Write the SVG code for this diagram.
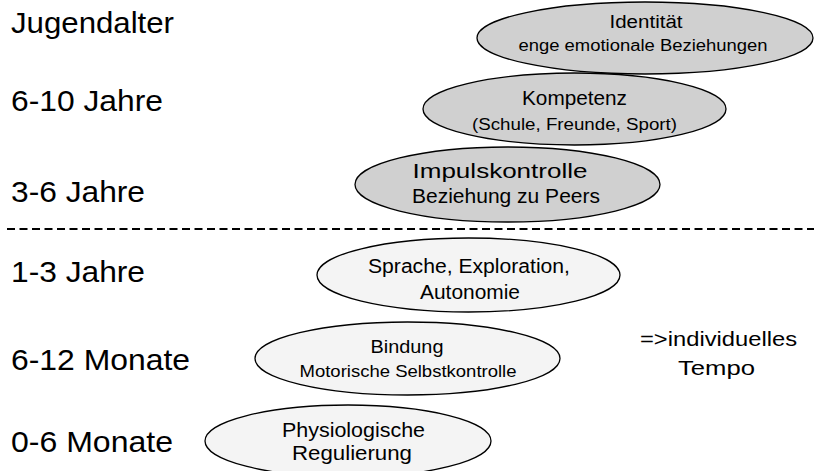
<svg xmlns="http://www.w3.org/2000/svg" width="814" height="471" viewBox="0 0 814 471">
<style>
text{font-family:"Liberation Sans",Arial,sans-serif;fill:#000}
.lab{font-size:30px}
.dark{fill:#d0d0d0;stroke:#000;stroke-width:1.3}
.light{fill:#f4f4f4;stroke:#000;stroke-width:1.3}
.c{text-anchor:middle}
</style>
<rect width="814" height="471" fill="#fff"/>
<g id="labels">
<text class="lab" x="11" y="33" textLength="163" lengthAdjust="spacingAndGlyphs">Jugendalter</text>
<text class="lab" x="11" y="111" textLength="152" lengthAdjust="spacingAndGlyphs">6-10 Jahre</text>
<text class="lab" x="11" y="202" textLength="134" lengthAdjust="spacingAndGlyphs">3-6 Jahre</text>
<text class="lab" x="11" y="282" textLength="134" lengthAdjust="spacingAndGlyphs">1-3 Jahre</text>
<text class="lab" x="11" y="370" textLength="179" lengthAdjust="spacingAndGlyphs">6-12 Monate</text>
<text class="lab" x="11" y="452" textLength="162" lengthAdjust="spacingAndGlyphs">0-6 Monate</text>
</g>
<g id="connectors">
<line x1="7" y1="229" x2="814" y2="229" stroke="#000" stroke-width="2" stroke-dasharray="8 4.5"/>
</g>
<g id="n1">
<ellipse class="dark" cx="645" cy="38" rx="168" ry="36"/>
<text class="c" x="646" y="28" font-size="18" textLength="73" lengthAdjust="spacingAndGlyphs">Identität</text>
<text class="c" x="643" y="51" font-size="16" textLength="249" lengthAdjust="spacingAndGlyphs">enge emotionale Beziehungen</text>
</g>
<g id="n2">
<ellipse class="dark" cx="574.5" cy="109" rx="151.5" ry="36"/>
<text class="c" x="574.5" y="105" font-size="20" textLength="105" lengthAdjust="spacingAndGlyphs">Kompetenz</text>
<text class="c" x="574.5" y="130" font-size="16" textLength="205" lengthAdjust="spacingAndGlyphs">(Schule, Freunde, Sport)</text>
</g>
<g id="n3">
<ellipse class="dark" cx="507.5" cy="184.5" rx="152.5" ry="37.5"/>
<text class="c" x="500" y="178" font-size="20" textLength="175" lengthAdjust="spacingAndGlyphs">Impulskontrolle</text>
<text class="c" x="506" y="203" font-size="20" textLength="188" lengthAdjust="spacingAndGlyphs">Beziehung zu Peers</text>
</g>
<g id="n4">
<ellipse class="light" cx="468.5" cy="275" rx="151.5" ry="37"/>
<text class="c" x="469" y="273" font-size="20" textLength="202" lengthAdjust="spacingAndGlyphs">Sprache, Exploration,</text>
<text class="c" x="470" y="299" font-size="20" textLength="100" lengthAdjust="spacingAndGlyphs">Autonomie</text>
</g>
<g id="n5">
<ellipse class="light" cx="407.5" cy="358.5" rx="152.5" ry="36.5"/>
<text class="c" x="407" y="353" font-size="19" textLength="73" lengthAdjust="spacingAndGlyphs">Bindung</text>
<text class="c" x="408" y="377" font-size="17" textLength="217" lengthAdjust="spacingAndGlyphs">Motorische Selbstkontrolle</text>
</g>
<g id="n6">
<ellipse class="light" cx="348" cy="441" rx="143" ry="36"/>
<text class="c" x="353.5" y="437" font-size="20" textLength="143" lengthAdjust="spacingAndGlyphs">Physiologische</text>
<text class="c" x="352" y="460" font-size="20" textLength="120" lengthAdjust="spacingAndGlyphs">Regulierung</text>
</g>
<g id="note">
<text class="c" x="718.5" y="346" font-size="21" textLength="157" lengthAdjust="spacingAndGlyphs">=&gt;individuelles</text>
<text class="c" x="716.5" y="375" font-size="21" textLength="77" lengthAdjust="spacingAndGlyphs">Tempo</text>
</g>
</svg>
